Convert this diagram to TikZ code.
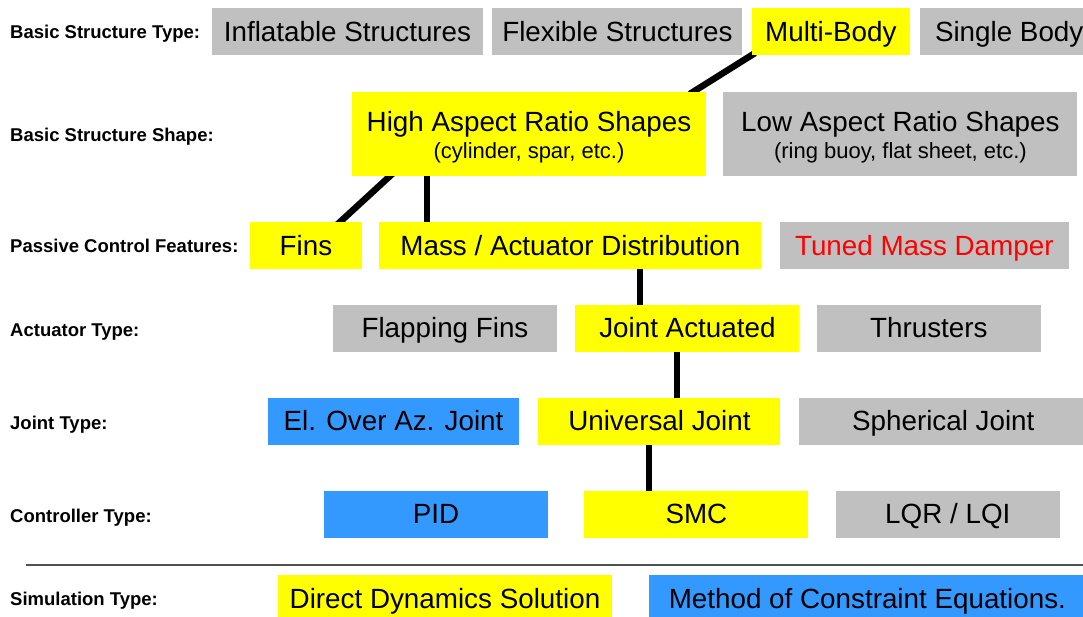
\documentclass[tikz,border=0pt]{standalone}
\usepackage{fontspec}
\setmainfont{Liberation Sans}
\usetikzlibrary{positioning}
\usetikzlibrary{backgrounds}
\definecolor{offgrey}{RGB}{192,192,192}
\definecolor{onyellow}{RGB}{255,255,0}
\definecolor{altblue}{RGB}{51,153,255}
\definecolor{rulegrey}{RGB}{80,80,80}
\newcommand{\BoxFont}{\fontsize{27.8}{27}\selectfont}
\newcommand{\NoteFont}{\fontsize{22}{22}\selectfont}
\newcommand{\RowFont}{\fontsize{18.5}{18.5}\selectfont\bfseries}
\tikzstyle{choice}=[rectangle,inner sep=0pt,minimum height=47pt,text height=19.9pt,text depth=0pt,font=\BoxFont,node distance=9pt]
\tikzstyle{offbox}=[choice,fill=offgrey]
\tikzstyle{onbox}=[choice,fill=onyellow]
\tikzstyle{altbox}=[choice,fill=altblue]
\tikzstyle{twoline}=[align=center,minimum height=84pt,text height=48pt,text depth=0pt]
\tikzstyle{rowname}=[anchor=west,inner sep=0pt,text height=13.2pt,text depth=0pt,font=\RowFont]

\begin{document}
\begin{tikzpicture}
	[x=1pt,y=-1pt]
	\tikzstyle{link}=[line width=6.5pt,shorten >=-4pt,shorten <=-4pt];
	\useasboundingbox (0,0) rectangle (1083,616);
	
	% row titles
	\node (t1) [rowname] at (10,32) {Basic Structure Type:};
	\node (t2) [rowname] at (10,135) {Basic Structure Shape:};
	\node (t3) [rowname] at (10,245.5) {Passive Control Features:};
	\node (t4) [rowname] at (10,330) {Actuator Type:};
	\node (t5) [rowname] at (10,423) {Joint Type:};
	\node (t6) [rowname] at (10,515.5) {Controller Type:};
	\node (t7) [rowname] at (10,598.5) {Simulation Type:};
	
	% structure type
	\node (inflatable) [offbox,minimum width=271pt] at (347.5,31.5) {Inflatable Structures};
	\node (flexible) [offbox,minimum width=250pt,right=of inflatable] {Flexible Structures};
	\node (multi) [onbox,minimum width=158pt,right=of flexible] {Multi-Body};
	\node (single) [offbox,minimum width=178pt,right=10pt of multi] {Single Body};
	
	% structure shape
	\node (high) [onbox,twoline,minimum width=354pt] at (529,134) {High Aspect Ratio Shapes\\{\NoteFont (cylinder, spar, etc.)}};
	\node (low) [offbox,twoline,minimum width=354pt,right=17pt of high] {Low Aspect Ratio Shapes\\{\NoteFont (ring buoy, flat sheet, etc.)}};
	
	% passive control
	\node (fins) [onbox,minimum width=112pt] at (306,245.5) {Fins};
	\node (mass) [onbox,minimum width=382pt,right=17pt of fins] {Mass / Actuator Distribution};
	\node (tuned) [offbox,minimum width=289pt,right=18pt of mass,text=red] {Tuned Mass Damper};
	
	% actuators
	\node (flapping) [offbox,minimum width=224pt] at (445,328) {Flapping Fins};
	\node (jointact) [onbox,minimum width=224pt,right=18pt of flapping] {Joint Actuated};
	\node (thrusters) [offbox,minimum width=224pt,right=17pt of jointact] {Thrusters};
	
	% joints
	\node (elaz) [altbox,minimum width=251pt] at (393.5,421) {El. Over Az. Joint};
	\node (universal) [onbox,minimum width=242pt,right=19pt of elaz] {Universal Joint};
	\node (spherical) [offbox,minimum width=289pt,right=18pt of universal] {Spherical Joint};
	
	% controllers
	\node (pid) [altbox,minimum width=224pt] at (436,514) {PID};
	\node (smc) [onbox,minimum width=224pt,right=36pt of pid] {SMC};
	\node (lqr) [offbox,minimum width=224pt,right=27pt of smc] {LQR / LQI};
	
	\draw[rulegrey,line width=1.5pt] (26,565) -- (1083,565);
	
	% simulation
	\node (direct) [onbox,minimum width=334pt] at (445,598.5) {Direct Dynamics Solution};
	\node (constraint) [altbox,minimum width=436pt,right=37pt of direct] {Method of Constraint Equations.};
	
	% chosen path
	\begin{scope}[on background layer]
		\draw[link] (multi.south west) -- ([xshift=-13pt]high.north east);
		\draw[link] ([xshift=38pt]high.south west) -- ([xshift=-22pt]fins.north east);
		\coordinate (m) at ([xshift=48pt]mass.north west);
		\draw[link] (m) -- (m |- high.south);
		\coordinate (j) at ([xshift=65pt]jointact.north west);
		\draw[link] (j) -- (j |- mass.south);
		\coordinate (u) at ([xshift=139pt]universal.north west);
		\draw[link] (u) -- (u |- jointact.south);
		\coordinate (s) at ([xshift=65pt]smc.north west);
		\draw[link] (s) -- (s |- universal.south);
	\end{scope}
\end{tikzpicture}
\end{document}
